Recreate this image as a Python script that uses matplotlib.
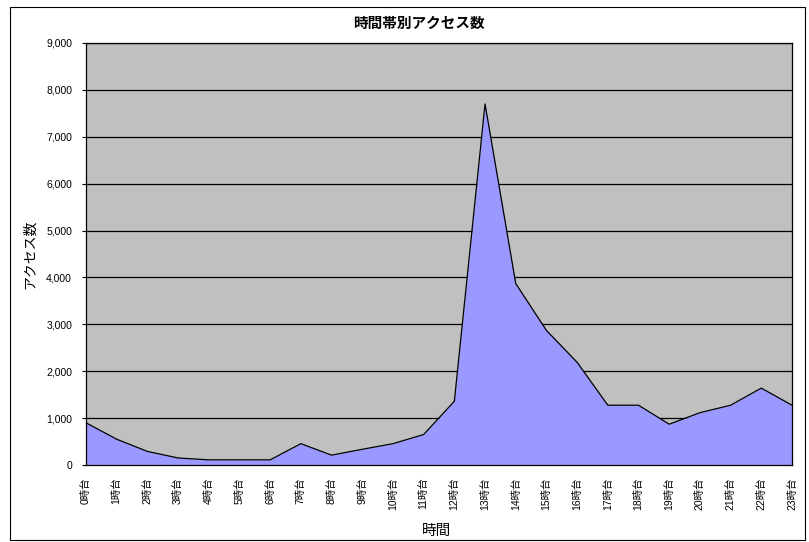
import matplotlib
matplotlib.use("Agg")
import matplotlib.pyplot as plt
from matplotlib.patches import Rectangle
from matplotlib.ticker import FuncFormatter, MultipleLocator

plt.rcParams['font.family'] = ['Liberation Sans', 'Noto Sans CJK JP', 'DejaVu Sans']

hours = [f"{h}時台" for h in range(24)]
access = [900, 550, 290, 150, 110, 110, 110, 455, 210, 335, 455, 650,
          1360, 7700, 3870, 2870, 2190, 1275, 1275, 870, 1115, 1275, 1640, 1275]

W, H = 809, 542
fig = plt.figure(figsize=(W / 100, H / 100), dpi=100)
fig.patches.append(Rectangle((10 / W, 1 - 540 / H), 795 / W, 533 / H,
                             transform=fig.transFigure, fill=False,
                             edgecolor="black", linewidth=0.8))

ax = fig.add_axes([86 / W, 1 - 465 / H, (792 - 86) / W, (465 - 43) / H])
ax.set_facecolor("#C0C0C0")
x = list(range(len(hours)))
ax.fill_between(x, access, color="#9999FF", linewidth=0)
ax.plot(x, access, color="black", linewidth=0.9)

ax.set_xlim(0, len(hours) - 1)
ax.set_ylim(0, 9000)
ax.yaxis.set_major_locator(MultipleLocator(1000))
ax.yaxis.set_major_formatter(FuncFormatter(lambda v, p: f"{int(v):,}"))
ax.grid(axis="y", color="black", linewidth=0.9)
ax.set_axisbelow(True)

ax.set_xticks(x)
ax.set_xticklabels(hours, rotation=90, fontsize=7.5)
ax.tick_params(axis="y", labelsize=7.5, length=3, width=0.8, direction="out", pad=7)
ax.tick_params(axis="x", length=3, width=0.8, direction="in", pad=9)
for s in ax.spines.values():
    s.set_linewidth(0.9)

fig.text(419 / W, 1 - 23 / H, "時間帯別アクセス数", fontsize=10.5, fontweight="bold",
         ha="center", va="center", family=['Noto Sans CJK JP'])
ax.set_xlabel("時間", fontsize=10.5, family=['Noto Sans CJK JP'])
ax.xaxis.set_label_coords(0.497, -0.14)
ax.set_ylabel("アクセス数", fontsize=10, family=['Noto Sans CJK JP'])
ax.yaxis.set_label_coords(-0.069, 0.5)

fig.savefig("out.png", dpi=100)
